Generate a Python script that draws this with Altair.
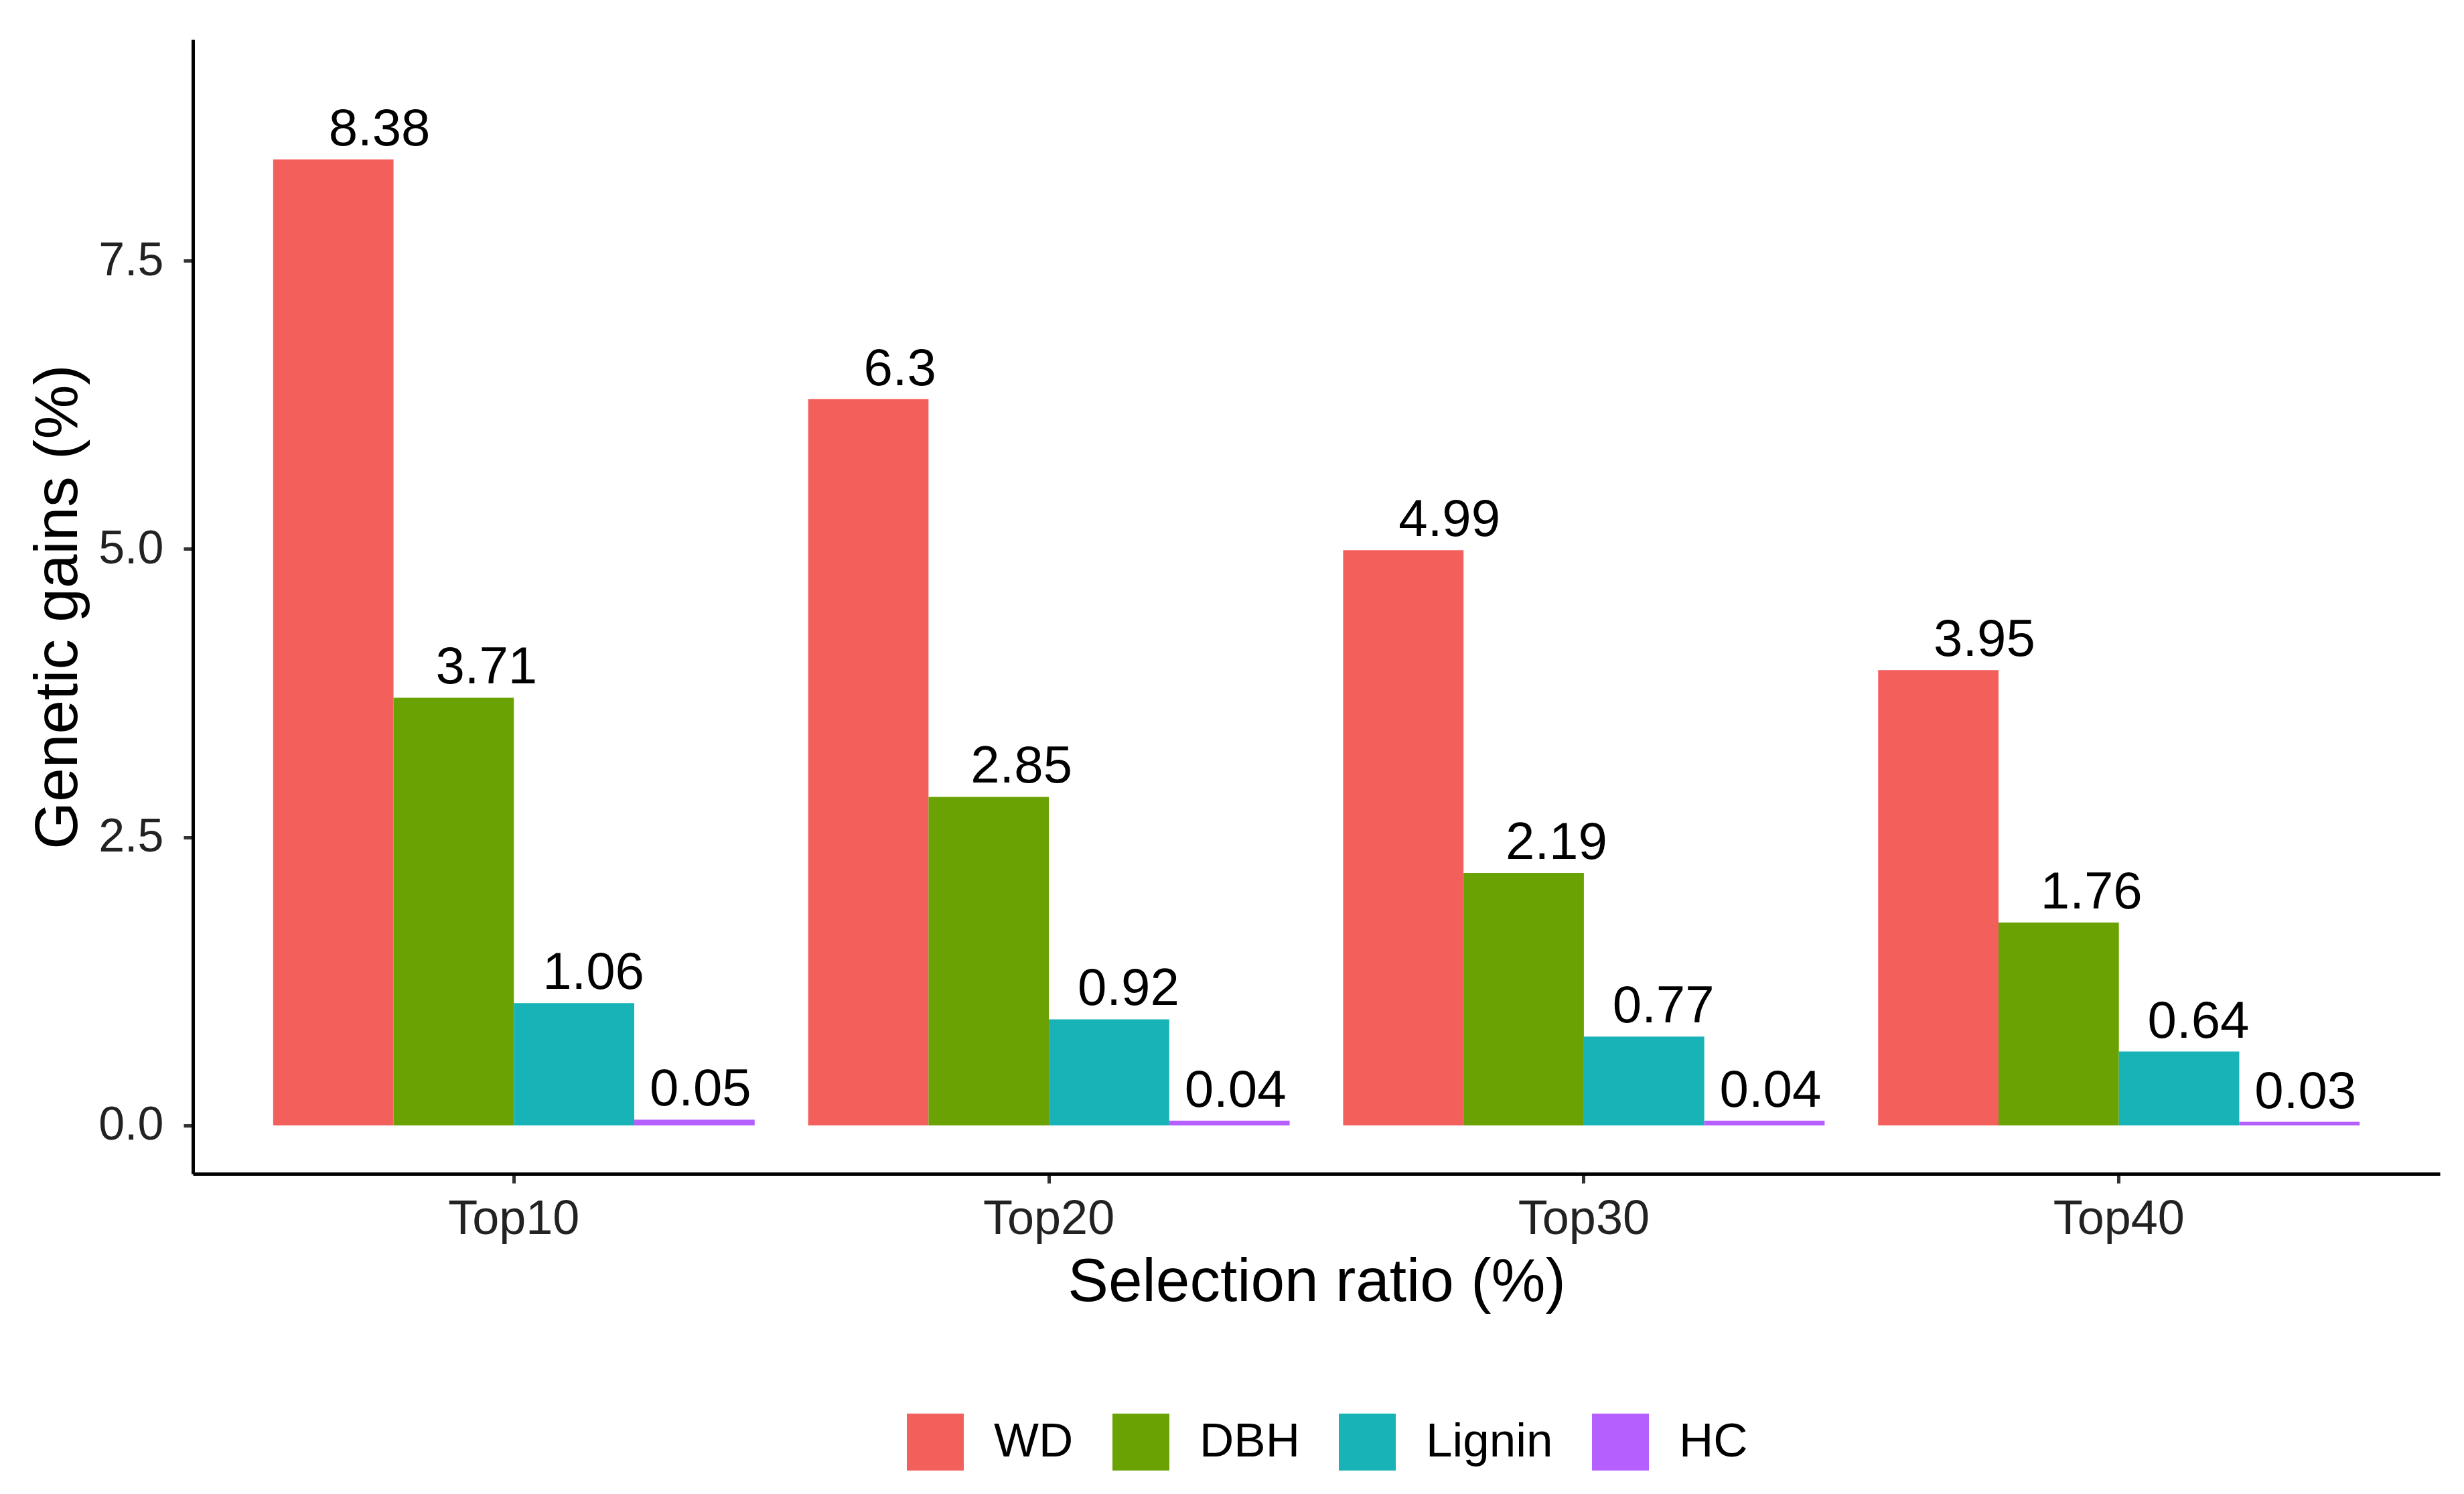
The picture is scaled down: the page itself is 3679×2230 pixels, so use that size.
import altair as alt
import pandas as pd

ratios = ["Top10", "Top20", "Top30", "Top40"]
traits = ["WD", "DBH", "Lignin", "HC"]
wd = [8.38, 6.3, 4.99, 3.95]
dbh = [3.71, 2.85, 2.19, 1.76]
lignin = [1.06, 0.92, 0.77, 0.64]
hc = [0.05, 0.04, 0.04, 0.03]
colors = ["#F35F5B", "#6AA204", "#18B3B7", "#B65FFF"]
y_ticks = [0, 2.5, 5, 7.5]

rows = []
for t, vals in zip(traits, [wd, dbh, lignin, hc]):
    for r, v in zip(ratios, vals):
        rows.append({"ratio": r, "trait": t, "value": v, "label": str(v)})
df = pd.DataFrame(rows)

FONT = "Liberation Sans"
W, H = 3355, 1693
step = W / 4.2

base = alt.Chart(df)

xenc = alt.X(
    "ratio:N", sort=ratios,
    scale=alt.Scale(paddingInner=0.1, paddingOuter=0.15),
    axis=alt.Axis(
        title="Selection ratio (%)", labelAngle=0, labelFontSize=72, labelFont=FONT,
        labelColor="#222222", labelPadding=18, labelLimit=0, tickSize=14, tickWidth=5,
        tickColor="#333333", domainColor="#000000", domainWidth=5, titleFontSize=91,
        titleFont=FONT, titleFontWeight="normal", titleColor="#000000",
        titleBaseline="alphabetic", titleY=189, grid=False,
    ),
)
yenc = alt.Y(
    "value:Q",
    scale=alt.Scale(domain=[-0.42, 9.42], nice=False, zero=False),
    axis=alt.Axis(
        title="Genetic gains (%)", values=y_ticks, format=".1f", labelFontSize=70,
        labelFont=FONT, labelColor="#222222", labelPadding=30, tickSize=14, tickWidth=5,
        tickColor="#333333", domainColor="#000000", domainWidth=5, grid=False,
        titleFontSize=91, titleFont=FONT, titleFontWeight="normal", titleColor="#000000",
        titleBaseline="alphabetic", titleX=-174,
    ),
)

bars = base.mark_bar().encode(
    x=xenc,
    xOffset=alt.XOffset("trait:N", sort=traits, scale=alt.Scale(paddingInner=0, paddingOuter=0)),
    y=yenc,
    y2=alt.datum(0),
    color=alt.Color(
        "trait:N", sort=traits, scale=alt.Scale(domain=traits, range=colors),
        legend=alt.Legend(
            title=None, orient="none", direction="horizontal", legendX=1066, legendY=2051,
            symbolType="square", symbolSize=7225, symbolStrokeWidth=0, symbolOpacity=1,
            labelFontSize=71, labelFont=FONT, labelColor="#000000", labelOffset=45,
            labelLimit=0, columnPadding=58, padding=0,
        ),
    ),
)

text = base.mark_text(
    align="left", baseline="alphabetic", dx=-37, dy=-21, fontSize=78, font=FONT, color="#000000"
).encode(
    x=alt.X("ratio:N", sort=ratios),
    xOffset=alt.XOffset(
        "trait:N", sort=traits,
        scale=alt.Scale(type="point", range=[0.15 * step, 0.75 * step], padding=0),
    ),
    y=alt.Y("value:Q"),
    text="label:N",
)

chart = (
    alt.layer(bars, text)
    .resolve_scale(xOffset="independent")
    .properties(
        width=W, height=H,
        autosize=alt.AutoSizeParams(type="none"),
        padding={"left": 280, "top": 51, "right": 28, "bottom": 470},
        view=alt.ViewBackground(stroke="transparent", strokeWidth=0, strokeOpacity=0),
    )
    .configure_view(stroke="transparent", strokeWidth=0, strokeOpacity=0)
    .configure(background="white")
)

chart.save("out.html", embed_options={"renderer": "svg", "actions": False})
